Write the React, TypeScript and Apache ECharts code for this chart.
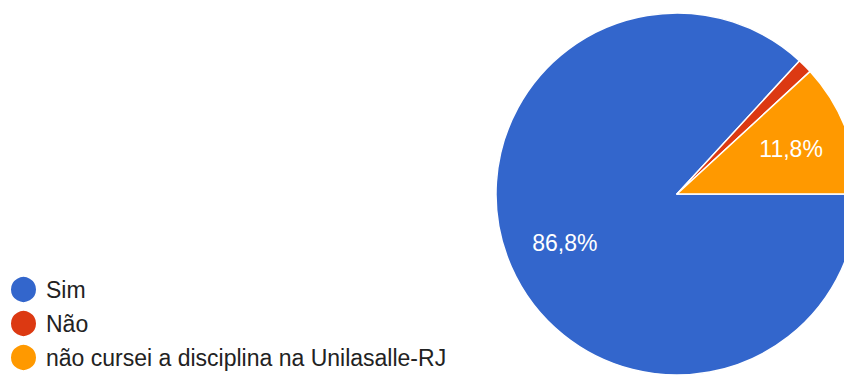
import React, { useEffect, useRef } from "react";
import * as echarts from "echarts";

const categories = ["Sim", "Não", "não cursei a disciplina na Unilasalle-RJ"];
const counts = [66, 1, 9];
const colors = ["#3366cc", "#dc3912", "#ff9900"];

const FONT = "'Liberation Sans', Arial, sans-serif";

export default function App() {
  const ref = useRef<HTMLDivElement>(null);
  useEffect(() => {
    if (!ref.current) return;
    const chart = echarts.init(ref.current, null, { renderer: "svg" });
    const total = counts.reduce((a, b) => a + b, 0);
    const data = categories.map((name, i) => ({
      name,
      value: counts[i],
      itemStyle: { color: colors[i] },
    }));
    const fmt = (v: number) => ((v / total) * 100).toFixed(1).replace(".", ",") + "%";
    const R = 181;
    const center = [677, 194];
    chart.setOption({
      animation: false,
      textStyle: { fontFamily: FONT },
      legend: {
        orient: "vertical",
        left: 9,
        top: 275,
        padding: 0,
        height: 101,
        icon: "circle",
        itemWidth: 27,
        itemHeight: 27,
        itemGap: 5,
        selectedMode: false,
        data: categories,
        textStyle: { fontSize: 23, lineHeight: 26, color: "#222222", fontFamily: FONT, padding: [0, 0, 0, 4] },
      },
      series: [
        {
          type: "pie",
          center,
          radius: R,
          startAngle: 0,
          clockwise: true,
          silent: true,
          label: { show: false },
          labelLine: { show: false },
          itemStyle: { borderColor: "#ffffff", borderWidth: 1.5 },
          data,
        },
        {
          type: "pie",
          center,
          radius: R * 1.32,
          startAngle: 0,
          clockwise: true,
          silent: true,
          legendHoverLink: false,
          itemStyle: { color: "transparent", borderWidth: 0 },
          labelLine: { show: false },
          label: {
            show: true,
            position: "inside",
            color: "#ffffff",
            fontSize: 23,
            fontFamily: FONT,
            formatter: (p: any) => (p.value / total >= 0.05 ? fmt(p.value) : ""),
          },
          data: categories.map((name, i) => ({ name: name + " ", value: counts[i] })),
        },
      ],
    });
    return () => chart.dispose();
  }, []);
  return (
    <div
      ref={ref}
      style={{ position: "fixed", left: 0, top: 0, width: 844, height: 376, background: "#ffffff" }}
    />
  );
}
